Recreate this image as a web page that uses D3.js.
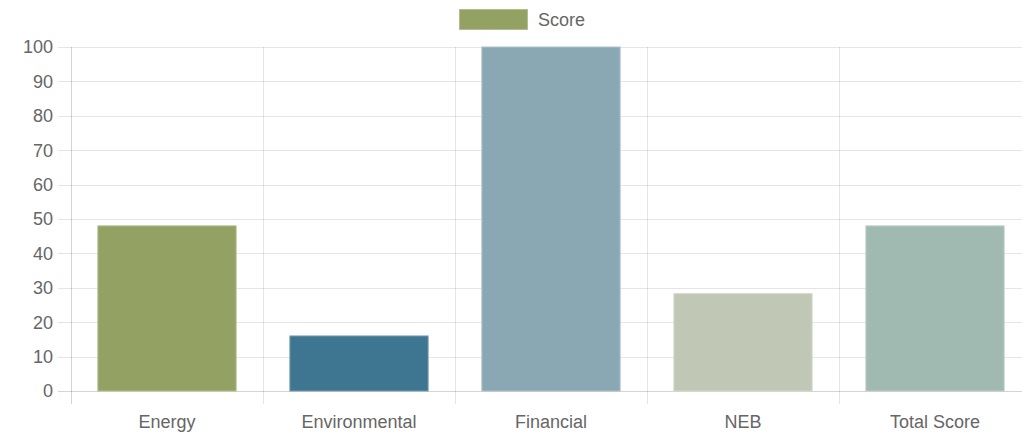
<!DOCTYPE html>
<html>
<head>
<meta charset="utf-8">
<script src="https://cdn.jsdelivr.net/npm/d3@7"></script>
<style>
  body { margin: 0; background: #fff; }
  svg { display: block; font-family: "Liberation Sans", Arial, sans-serif; }
  .lbl { fill: #666; font-size: 18px; }
</style>
</head>
<body>
<div id="chart"></div>
<script>
// the data
let categories = ["Energy", "Environmental", "Financial", "NEB", "Total Score"];
let scores = [48, 16, 100, 28.3, 48];
let barColors = ["#93a162", "#3e7590", "#8aa8b3", "#c0c8b5", "#a0bab2"];
let yTicks = [0, 10, 20, 30, 40, 50, 60, 70, 80, 90, 100];
let seriesName = "Score";

let W = 1022, H = 434;
// plot area (right edge runs past the window like the original)
let margin = {top: 47, left: 71, bottom: 43};
let plotRight = 1031;

let svg = d3.select("#chart").append("svg")
  .attr("width", W)
  .attr("height", H);

let x = d3.scaleBand()
  .domain(categories)
  .range([margin.left, plotRight])
  .paddingInner(0.28)
  .paddingOuter(0.14);

let y = d3.scaleLinear()
  .domain([0, 100])
  .range([H - margin.bottom, margin.top]);

let step = x.step();
let y0 = y(0);

// horizontal grid lines + tick marks
svg.append("g").selectAll("line")
  .data(yTicks)
  .enter().append("line")
  .attr("x1", margin.left - 13)
  .attr("x2", plotRight)
  .attr("y1", d => Math.round(y(d)) + 0.5)
  .attr("y2", d => Math.round(y(d)) + 0.5)
  .attr("stroke", d => d === 0 ? "rgba(0,0,0,0.17)" : "rgba(0,0,0,0.1)")
  .attr("stroke-width", 1);

// vertical grid lines at category boundaries
let bounds = d3.range(categories.length + 1);
svg.append("g").selectAll("line")
  .data(bounds)
  .enter().append("line")
  .attr("x1", i => Math.round(margin.left + i * step) + 0.5)
  .attr("x2", i => Math.round(margin.left + i * step) + 0.5)
  .attr("y1", margin.top)
  .attr("y2", y0 + 13)
  .attr("stroke", i => i === 0 ? "rgba(0,0,0,0.17)" : "rgba(0,0,0,0.1)")
  .attr("stroke-width", 1);

// bars
svg.append("g").selectAll("rect")
  .data(scores)
  .enter().append("rect")
  .attr("x", (d, i) => x(categories[i]))
  .attr("y", d => y(d))
  .attr("width", x.bandwidth())
  .attr("height", d => y0 - y(d))
  .attr("fill", (d, i) => barColors[i])
  .attr("stroke", (d, i) => d3.interpolateRgb(barColors[i], "#fff")(0.3))
  .attr("stroke-width", 1);

// y labels
svg.append("g").selectAll("text")
  .data(yTicks)
  .enter().append("text")
  .attr("class", "lbl")
  .attr("x", margin.left - 18)
  .attr("y", d => y(d))
  .attr("dy", "0.35em")
  .attr("text-anchor", "end")
  .text(d => d);

// x labels
svg.append("g").selectAll("text")
  .data(categories)
  .enter().append("text")
  .attr("class", "lbl")
  .attr("x", d => x(d) + x.bandwidth() / 2)
  .attr("y", y0 + 37)
  .attr("text-anchor", "middle")
  .text(d => d);

// legend
let legend = svg.append("g");
legend.append("rect")
  .attr("x", 459.5)
  .attr("y", 9.5)
  .attr("width", 68)
  .attr("height", 20)
  .attr("fill", barColors[0])
  .attr("stroke", d3.interpolateRgb(barColors[0], "#fff")(0.3));
legend.append("text")
  .attr("class", "lbl")
  .attr("x", 538)
  .attr("y", 19.5)
  .attr("dy", "0.35em")
  .text(seriesName);
</script>
</body>
</html>
